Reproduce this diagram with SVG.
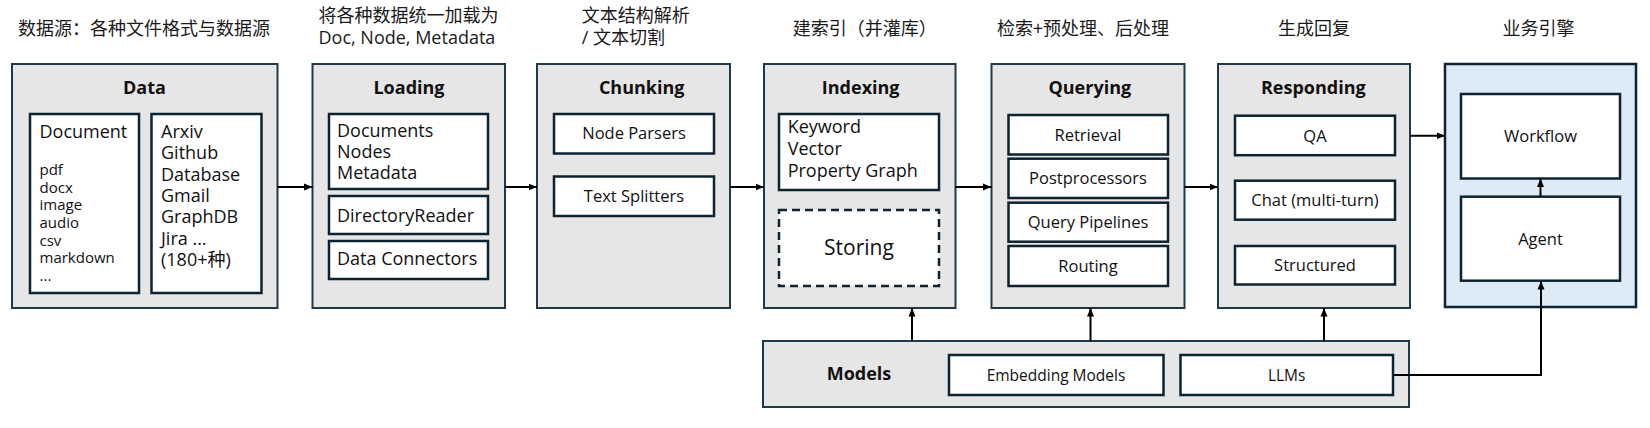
<svg xmlns="http://www.w3.org/2000/svg" width="1650" height="428" viewBox="0 0 1650 428">
  <defs>
    <marker id="arr" markerWidth="9" markerHeight="8" refX="8.5" refY="4" orient="auto" markerUnits="userSpaceOnUse">
      <path d="M0,0.5 L8.5,4 L0,7.5 z" fill="#000"/>
    </marker>
    <style>
      text { font-family: "Open Sans", "Noto Sans CJK SC", sans-serif; fill: #111; }
      .hdr { font-family: "Noto Sans CJK SC", "Open Sans", sans-serif; font-size: 18px; fill: #1a1a1a; }
      .hdrl { font-family: "Open Sans", "Noto Sans CJK SC", sans-serif; font-size: 18px; fill: #1a1a1a; }
      .outer { fill: #E7E6E6; stroke: #22394A; stroke-width: 2; }
      .biz { fill: #DDEBF7; stroke: #0E2332; stroke-width: 2.5; }
      .inner { fill: #FFFFFF; stroke: #0E2332; stroke-width: 2.5; }
      .dash { fill: #FFFFFF; stroke: #0E2332; stroke-width: 2.5; stroke-dasharray: 8 5; }
      .title { font-weight: bold; font-size: 18px; text-anchor: middle; }
      .t18 { font-size: 18px; }
      .t15 { font-size: 15px; }
      .c16 { font-size: 16.5px; text-anchor: middle; }
      .c15 { font-size: 15.5px; text-anchor: middle; }
      .conn { fill: none; stroke: #000; stroke-width: 2; }
    </style>
  </defs>

  <g id="headers">
    <text class="hdr" x="18" y="34.5">数据源：各种文件格式与数据源</text>
    <text class="hdr" x="318.5" y="22">将各种数据统一加载为</text>
    <text class="hdrl" x="318.5" y="44">Doc, Node, Metadata</text>
    <text class="hdr" x="581.7" y="22">文本结构解析</text>
    <text class="hdrl" x="581.7" y="44">/ 文本切割</text>
    <text class="hdr" x="792.7" y="34.5">建索引（并灌库）</text>
    <text class="hdr" x="997" y="34.5">检索+预处理、后处理</text>
    <text class="hdr" x="1314" y="34.5" text-anchor="middle">生成回复</text>
    <text class="hdr" x="1538.5" y="34.5" text-anchor="middle">业务引擎</text>
  </g>

  <g id="data">
    <rect class="outer" x="12" y="64" width="265.5" height="244"/>
    <text class="title" x="144.5" y="93.5">Data</text>
    <rect class="inner" x="30" y="114" width="109" height="179"/>
    <text class="t18" x="39.5" y="138">Document</text>
    <text class="t15" x="39.5" y="175">pdf</text>
    <text class="t15" x="39.5" y="192.7">docx</text>
    <text class="t15" x="39.5" y="210.3">image</text>
    <text class="t15" x="39.5" y="228">audio</text>
    <text class="t15" x="39.5" y="245.6">csv</text>
    <text class="t15" x="39.5" y="263.3">markdown</text>
    <text class="t15" x="39.5" y="281">...</text>
    <rect class="inner" x="151.5" y="114" width="110" height="179"/>
    <text class="t18" x="161" y="138">Arxiv</text>
    <text class="t18" x="161" y="159.3">Github</text>
    <text class="t18" x="161" y="180.6">Database</text>
    <text class="t18" x="161" y="201.9">Gmail</text>
    <text class="t18" x="161" y="223.2">GraphDB</text>
    <text class="t18" x="161" y="244.5">Jira ...</text>
    <text class="t18" x="161" y="265.5">(180+种)</text>
  </g>

  <g id="loading">
    <rect class="outer" x="312.5" y="64" width="192.5" height="244"/>
    <text class="title" x="409" y="93.5">Loading</text>
    <rect class="inner" x="329" y="114" width="159" height="75"/>
    <text class="t18" x="337" y="136.7">Documents</text>
    <text class="t18" x="337" y="157.7">Nodes</text>
    <text class="t18" x="337" y="179.3">Metadata</text>
    <rect class="inner" x="329" y="196" width="159" height="38"/>
    <text class="t18" x="337" y="221.5">DirectoryReader</text>
    <rect class="inner" x="329" y="241" width="159" height="38"/>
    <text class="t18" x="337" y="264.5">Data Connectors</text>
  </g>

  <g id="chunking">
    <rect class="outer" x="537" y="64" width="193" height="244"/>
    <text class="title" x="641.7" y="93.5">Chunking</text>
    <rect class="inner" x="554" y="114" width="160" height="39.5"/>
    <text class="c16" x="634" y="139">Node Parsers</text>
    <rect class="inner" x="554" y="176.5" width="160" height="39.5"/>
    <text class="c16" x="634" y="202">Text Splitters</text>
  </g>

  <g id="indexing">
    <rect class="outer" x="764" y="64" width="191.5" height="244"/>
    <text class="title" x="860.7" y="93.5">Indexing</text>
    <rect class="inner" x="779" y="114" width="160" height="76"/>
    <text class="t18" x="787.7" y="133.3">Keyword</text>
    <text class="t18" x="787.7" y="155">Vector</text>
    <text class="t18" x="787.7" y="176.7">Property Graph</text>
    <rect class="dash" x="779" y="210" width="160" height="76"/>
    <text x="859" y="255" font-size="21" text-anchor="middle">Storing</text>
  </g>

  <g id="querying">
    <rect class="outer" x="991.5" y="64" width="193" height="244"/>
    <text class="title" x="1089.8" y="93.5">Querying</text>
    <rect class="inner" x="1008.5" y="115" width="159.5" height="39.5"/>
    <text class="c16" x="1088" y="140.5">Retrieval</text>
    <rect class="inner" x="1008.5" y="158.7" width="159.5" height="39.3"/>
    <text class="c16" x="1088" y="184.3">Postprocessors</text>
    <rect class="inner" x="1008.5" y="202.7" width="159.5" height="39"/>
    <text class="c16" x="1088" y="228">Query Pipelines</text>
    <rect class="inner" x="1008.5" y="246" width="159.5" height="40"/>
    <text class="c16" x="1088" y="272">Routing</text>
  </g>

  <g id="responding">
    <rect class="outer" x="1218" y="64" width="192" height="244"/>
    <text class="title" x="1313.3" y="93.5">Responding</text>
    <rect class="inner" x="1235" y="115.7" width="160" height="39.5"/>
    <text class="c16" x="1315" y="141.5">QA</text>
    <rect class="inner" x="1235" y="180.7" width="160" height="39"/>
    <text class="c16" x="1315" y="206">Chat (multi-turn)</text>
    <rect class="inner" x="1235" y="246" width="160" height="38.5"/>
    <text class="c16" x="1315" y="271">Structured</text>
  </g>

  <g id="business">
    <rect class="biz" x="1445" y="64" width="191" height="243"/>
    <rect class="inner" x="1461" y="94" width="159" height="84.5"/>
    <text class="c16" x="1540.5" y="142">Workflow</text>
    <rect class="inner" x="1461" y="196.7" width="159" height="84"/>
    <text class="c16" x="1540.5" y="244.7">Agent</text>
  </g>

  <g id="models">
    <rect class="outer" x="763" y="341" width="646" height="66"/>
    <text class="title" x="859" y="380.4">Models</text>
    <rect class="inner" x="949" y="355" width="214.5" height="40"/>
    <text class="c15" x="1056" y="381">Embedding Models</text>
    <rect class="inner" x="1180.5" y="355" width="212.5" height="40"/>
    <text class="c15" x="1286.7" y="381">LLMs</text>
  </g>

  <g id="connectors">
    <path class="conn" d="M277.5,187 H312.5" marker-end="url(#arr)"/>
    <path class="conn" d="M505,187 H537" marker-end="url(#arr)"/>
    <path class="conn" d="M730,187 H764" marker-end="url(#arr)"/>
    <path class="conn" d="M955.5,187 H991.5" marker-end="url(#arr)"/>
    <path class="conn" d="M1184.5,187 H1218" marker-end="url(#arr)"/>
    <path class="conn" d="M1410,135.7 H1445" marker-end="url(#arr)"/>
    <path class="conn" d="M912,341 V308" marker-end="url(#arr)"/>
    <path class="conn" d="M1090.5,341 V308" marker-end="url(#arr)"/>
    <path class="conn" d="M1324,341 V308" marker-end="url(#arr)"/>
    <path class="conn" d="M1393,375 H1541 V281" marker-end="url(#arr)"/>
    <path class="conn" d="M1540.5,196.7 V178.5" marker-end="url(#arr)"/>
  </g>
</svg>
